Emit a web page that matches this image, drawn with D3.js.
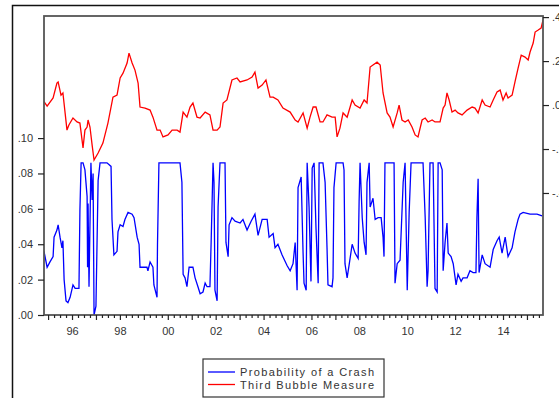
<!DOCTYPE html>
<html><head><meta charset="utf-8">
<script src="https://cdn.jsdelivr.net/npm/d3@7"></script>
<style>body{margin:0;background:#fff}svg{display:block}text{font-family:"Liberation Sans",Arial,sans-serif;fill:#333}</style>
</head><body><svg id="c" width="559" height="398"></svg>
<script>
// Probability of a Crash (left axis)
const blueT=[1994.83,1994.96,1995.08,1995.21,1995.25,1995.37,1995.42,1995.50,1995.58,1995.62,1995.67,1995.75,1995.83,1995.92,1996.04,1996.13,1996.29,1996.33,1996.38,1996.46,1996.54,1996.63,1996.65,1996.67,1996.71,1996.79,1996.84,1996.88,1996.92,1997.00,1997.09,1997.17,1997.46,1997.63,1997.67,1997.75,1997.88,1997.92,1998.01,1998.13,1998.21,1998.34,1998.51,1998.59,1998.72,1998.80,1998.84,1999.13,1999.17,1999.26,1999.38,1999.42,1999.55,1999.57,1999.63,2000.51,2000.59,2000.64,2000.72,2000.80,2000.89,2001.05,2001.14,2001.26,2001.35,2001.47,2001.56,2001.64,2001.76,2001.81,2001.89,2001.93,2001.97,2002.06,2002.10,2002.18,2002.39,2002.43,2002.52,2002.56,2002.68,2002.81,2003.02,2003.14,2003.31,2003.48,2003.64,2003.77,2003.94,2004.15,2004.23,2004.40,2004.48,2004.60,2004.77,2004.98,2005.11,2005.23,2005.32,2005.40,2005.44,2005.57,2005.65,2005.69,2005.78,2005.82,2005.90,2005.98,2006.03,2006.11,2006.19,2006.28,2006.32,2006.48,2006.57,2006.65,2006.69,2006.86,2006.90,2006.94,2007.03,2007.32,2007.36,2007.40,2007.49,2007.57,2007.70,2007.82,2007.95,2007.99,2008.03,2008.12,2008.20,2008.28,2008.32,2008.41,2008.45,2008.57,2008.66,2008.78,2008.91,2008.99,2009.03,2009.07,2009.45,2009.49,2009.58,2009.70,2009.83,2009.91,2010.00,2010.08,2010.16,2010.66,2010.75,2010.83,2010.87,2010.95,2011.08,2011.16,2011.25,2011.29,2011.37,2011.46,2011.50,2011.58,2011.66,2011.71,2011.83,2011.92,2012.04,2012.12,2012.25,2012.33,2012.50,2012.62,2012.75,2012.87,2012.91,2012.96,2013.00,2013.13,2013.25,2013.46,2013.59,2013.75,2013.84,2013.96,2014.09,2014.21,2014.38,2014.50,2014.63,2014.71,2014.84,2015.13,2015.42,2015.63];
const blueV=[0.036,0.027,0.030,0.033,0.044,0.048,0.051,0.044,0.038,0.042,0.020,0.008,0.007,0.010,0.017,0.015,0.015,0.059,0.086,0.086,0.082,0.067,0.027,0.063,0.016,0.086,0.065,0.080,0.000,0.005,0.076,0.086,0.086,0.084,0.054,0.034,0.036,0.047,0.051,0.050,0.054,0.058,0.057,0.055,0.044,0.040,0.027,0.027,0.025,0.030,0.027,0.017,0.010,0.040,0.086,0.086,0.075,0.023,0.021,0.016,0.027,0.027,0.021,0.016,0.012,0.013,0.018,0.016,0.016,0.041,0.086,0.075,0.014,0.008,0.061,0.086,0.086,0.041,0.033,0.051,0.055,0.053,0.052,0.054,0.048,0.053,0.057,0.045,0.054,0.054,0.044,0.046,0.038,0.040,0.034,0.028,0.025,0.029,0.041,0.014,0.072,0.078,0.035,0.018,0.014,0.086,0.061,0.019,0.083,0.086,0.049,0.018,0.086,0.086,0.075,0.038,0.017,0.016,0.021,0.072,0.086,0.086,0.082,0.029,0.021,0.028,0.040,0.035,0.032,0.064,0.086,0.055,0.041,0.034,0.075,0.086,0.061,0.066,0.054,0.055,0.055,0.044,0.033,0.086,0.086,0.018,0.029,0.031,0.075,0.086,0.014,0.058,0.086,0.086,0.055,0.016,0.025,0.086,0.086,0.015,0.013,0.086,0.086,0.082,0.025,0.041,0.052,0.035,0.033,0.029,0.017,0.023,0.019,0.021,0.021,0.025,0.024,0.024,0.055,0.077,0.024,0.034,0.029,0.027,0.037,0.042,0.044,0.035,0.044,0.033,0.038,0.047,0.054,0.057,0.058,0.057,0.057,0.056];
// Third Bubble Measure (right axis)
const redT=[1994.83,1994.96,1995.21,1995.37,1995.42,1995.54,1995.62,1995.79,1995.87,1996.04,1996.21,1996.33,1996.46,1996.54,1996.63,1996.67,1996.75,1996.84,1996.92,1997.09,1997.29,1997.50,1997.71,1997.88,1998.01,1998.13,1998.30,1998.38,1998.51,1998.63,1998.76,1998.84,1999.05,1999.26,1999.38,1999.55,1999.68,1999.80,2000.01,2000.18,2000.39,2000.51,2000.64,2000.80,2000.93,2001.05,2001.22,2001.35,2001.56,2001.76,2001.89,2002.06,2002.18,2002.31,2002.47,2002.68,2002.89,2003.02,2003.31,2003.52,2003.64,2003.77,2003.94,2004.10,2004.27,2004.40,2004.60,2004.81,2005.11,2005.32,2005.44,2005.65,2005.82,2005.94,2006.07,2006.19,2006.36,2006.48,2006.65,2006.86,2006.99,2007.07,2007.19,2007.32,2007.49,2007.70,2007.82,2008.03,2008.20,2008.32,2008.45,2008.57,2008.74,2008.87,2008.99,2009.16,2009.28,2009.41,2009.58,2009.66,2009.78,2009.91,2010.04,2010.20,2010.33,2010.45,2010.62,2010.75,2010.87,2011.04,2011.16,2011.37,2011.50,2011.58,2011.66,2011.75,2011.87,2012.00,2012.12,2012.29,2012.50,2012.71,2012.83,2012.96,2013.13,2013.25,2013.46,2013.59,2013.75,2013.88,2014.00,2014.13,2014.21,2014.38,2014.50,2014.63,2014.76,2014.92,2015.05,2015.13,2015.26,2015.34,2015.47,2015.59,2015.67];
const redV=[0.015,-0.005,0.032,0.100,0.105,0.045,0.055,-0.114,-0.091,-0.059,-0.077,-0.082,-0.195,-0.114,-0.100,-0.068,-0.100,-0.182,-0.250,-0.218,-0.173,-0.082,0.036,0.045,0.123,0.145,0.191,0.236,0.191,0.159,0.100,-0.009,-0.014,-0.023,-0.055,-0.114,-0.114,-0.145,-0.136,-0.114,-0.114,-0.123,-0.032,-0.055,-0.009,0.009,-0.055,-0.059,-0.032,-0.045,-0.114,-0.114,-0.100,0.009,0.023,0.114,0.123,0.105,0.114,0.127,0.150,0.077,0.091,0.114,0.036,0.036,0.023,-0.014,-0.032,-0.068,-0.077,-0.036,-0.105,-0.055,-0.009,-0.009,-0.077,-0.077,-0.045,-0.055,-0.055,-0.145,-0.105,-0.036,-0.055,0.023,0.000,-0.014,0.023,0.009,0.173,0.182,0.195,0.182,0.055,-0.036,-0.055,-0.100,-0.036,0.000,-0.068,-0.077,-0.068,-0.100,-0.136,-0.145,-0.068,-0.059,-0.077,-0.068,-0.077,-0.077,-0.014,0.000,0.055,0.023,-0.032,-0.023,-0.036,-0.045,-0.023,-0.009,-0.014,-0.036,0.023,0.000,-0.009,0.023,0.059,0.068,0.023,0.055,0.032,0.045,0.105,0.168,0.227,0.218,0.205,0.241,0.282,0.332,0.341,0.350,0.386];
const leftTicks=[0,0.02,0.04,0.06,0.08,0.10];
const leftLabels=[".00",".02",".04",".06",".08",".10"];
const rightTicks=[0.4,0.2,0,-0.2,-0.4];
const rightLabels=[".4",".2",".0","-.2","-.4"];
const yearLabels=["96","98","00","02","04","06","08","10","12","14"];
const labelYears=[1996,1998,2000,2002,2004,2006,2008,2010,2012,2014];
const seriesNames=["Probability of a Crash","Third Bubble Measure"];
const colors=["#0000ff","#ff0000"];

const svg=d3.select("#c");
const L=44,R=543,T=16,B=315;
const x=d3.scaleLinear().domain([1994.83,2015.67]).range([L,R]);
const yL=d3.scaleLinear().domain([0,0.169]).range([B,T]);
const yR=d3.scaleLinear().domain([-0.955,0.405]).range([B,T]);

// outer frame
svg.append("rect").attr("x",12.5).attr("y",5.5).attr("width",560).attr("height",400)
  .attr("fill","none").attr("stroke","#111").attr("stroke-width",1.5);

// lines
const clip=svg.append("clipPath").attr("id","pc").append("rect").attr("x",L).attr("y",T-6).attr("width",R-L).attr("height",B-T+6);
const g=svg.append("g").attr("clip-path","url(#pc)");
const lb=d3.line().x((d,i)=>x(blueT[i])).y(d=>yL(d));
const lr=d3.line().x((d,i)=>x(redT[i])).y(d=>yR(d));
g.append("path").attr("d",lr(redV)).attr("fill","none").attr("stroke",colors[1]).attr("stroke-width",1.3);
g.append("path").attr("d",lb(blueV)).attr("fill","none").attr("stroke",colors[0]).attr("stroke-width",1.3);

// plot frame
svg.append("rect").attr("x",L).attr("y",T).attr("width",R-L).attr("height",B-T)
  .attr("fill","none").attr("stroke","#555").attr("stroke-width",1.8);

// left axis
const axL=d3.axisLeft(yL).tickValues(leftTicks).tickSize(6).tickPadding(5).tickFormat((d,i)=>leftLabels[i]);
const gl=svg.append("g").attr("transform",`translate(${L},0)`).call(axL);
// right axis
const axR=d3.axisRight(yR).tickValues(rightTicks).tickSize(6).tickPadding(3).tickFormat((d,i)=>rightLabels[i]);
const gr=svg.append("g").attr("transform",`translate(${R},0)`).call(axR);
// bottom axis: quarterly minor ticks
const quarters=d3.range(1995,2015.6,0.25);
const axBm=d3.axisBottom(x).tickValues(quarters.filter(q=>q%1!==0)).tickSize(3).tickFormat("");
svg.append("g").attr("transform",`translate(0,${B})`).call(axBm);
const axB=d3.axisBottom(x).tickValues(d3.range(1995,2016,1)).tickSize(5).tickFormat(d=>{const k=labelYears.indexOf(d);return k>=0?yearLabels[k]:"";}).tickPadding(7);
svg.append("g").attr("transform",`translate(0,${B})`).call(axB);
svg.selectAll(".domain").remove();
svg.selectAll(".tick line").attr("stroke","#222").attr("stroke-width",1.2);
svg.selectAll(".tick text").attr("font-size",11).attr("fill","#333").style("font-family","'Liberation Sans',Arial,sans-serif");

// legend
const lg=svg.append("g");
lg.append("rect").attr("x",203).attr("y",359).attr("width",181).attr("height",38).attr("fill","#fff").attr("stroke","#333").attr("stroke-width",1.2);
seriesNames.forEach((n,i)=>{
  const yy=372+i*12.5;
  lg.append("line").attr("x1",208).attr("x2",235).attr("y1",yy).attr("y2",yy).attr("stroke",colors[i]).attr("stroke-width",1.3);
  lg.append("text").attr("x",240).attr("y",yy+4).attr("font-size",11).attr("textLength",134).attr("lengthAdjust","spacing").text(n);
});
</script></body></html>
